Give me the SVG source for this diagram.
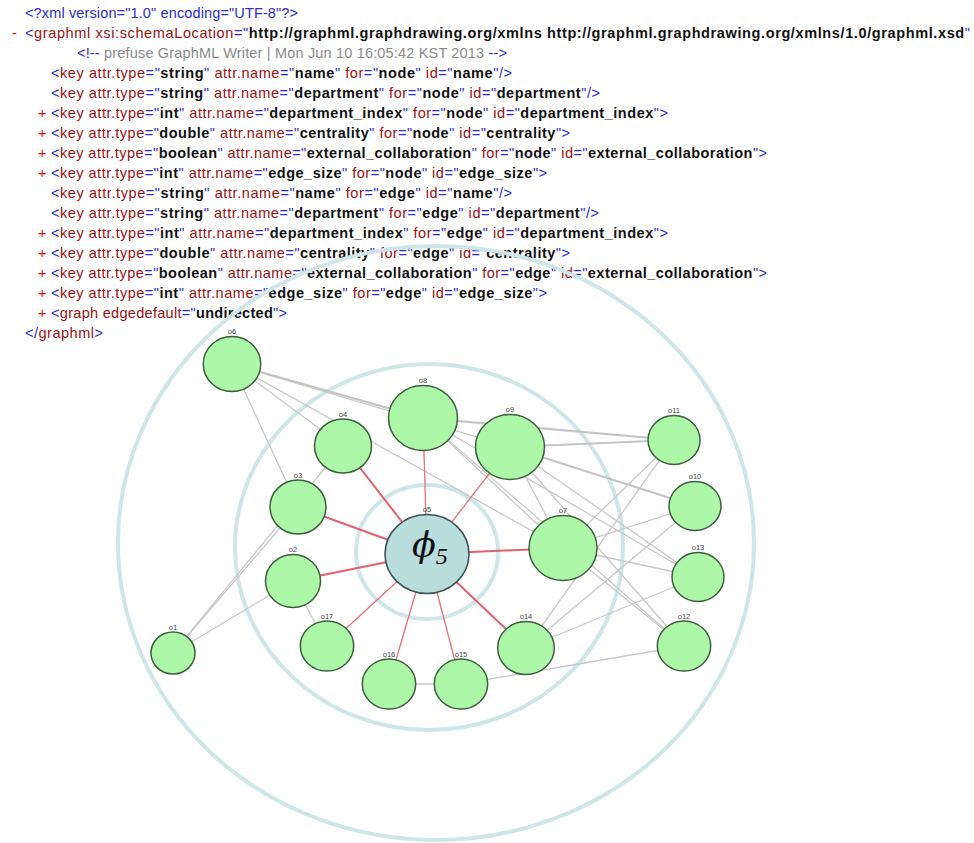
<svg xmlns="http://www.w3.org/2000/svg" width="974" height="843" viewBox="0 0 974 843">
  <style>
    .xml { font-family: "Liberation Sans", Arial, sans-serif; font-size: 14.5px; }
    .m { fill: #2b2bd6; }
    .t { fill: #9a1010; }
    .b { fill: #111; font-weight: bold; }
    .c { fill: #8a8a8a; }
    .p { fill: #e01010; }
    .ring { fill: none; stroke: #cfe6e6; stroke-width: 4; }
    .e { stroke: #c8c8c8; stroke-width: 1.3; fill: none; }
    .ew { stroke: #c4c4c4; stroke-width: 2.2; fill: none; }
    .r { stroke: #e8707c; stroke-width: 1.3; fill: none; }
    .rw { stroke: #e2606e; stroke-width: 2; fill: none; }
    .node ellipse { fill: #adf7a8; stroke: #3e5e3e; stroke-width: 1.5; }
    .hub ellipse { fill: #b9dddd; stroke: #3e5252; stroke-width: 1.6; }
    .lbl { font-family: "Liberation Sans", Arial, sans-serif; font-size: 7.5px; fill: #444; text-anchor: middle; }
  </style>

  <!-- XML listing -->
  <g id="listing" class="xml">
    <text x="25" y="18" class="m" textLength="273" lengthAdjust="spacing">&lt;?xml version="1.0" encoding="UTF-8"?&gt;</text>
    <text x="12" y="38" class="p">-</text>
    <text x="25" y="38" textLength="945" lengthAdjust="spacing"><tspan class="m">&lt;</tspan><tspan class="t">graphml xsi:schemaLocation</tspan><tspan class="m">="</tspan><tspan class="b">http://graphml.graphdrawing.org/xmlns http://graphml.graphdrawing.org/xmlns/1.0/graphml.xsd</tspan><tspan class="m">"</tspan></text>
    <text x="77" y="58" textLength="430" lengthAdjust="spacing"><tspan class="m">&lt;!--</tspan><tspan class="c"> prefuse GraphML Writer | Mon Jun 10 16:05:42 KST 2013 </tspan><tspan class="m">--&gt;</tspan></text>

    <text x="51" y="78" textLength="461" lengthAdjust="spacing"><tspan class="m">&lt;</tspan><tspan class="t">key attr.type</tspan><tspan class="m">="</tspan><tspan class="b">string</tspan><tspan class="m">"</tspan><tspan class="t"> attr.name</tspan><tspan class="m">="</tspan><tspan class="b">name</tspan><tspan class="m">"</tspan><tspan class="t"> for</tspan><tspan class="m">="</tspan><tspan class="b">node</tspan><tspan class="m">"</tspan><tspan class="t"> id</tspan><tspan class="m">="</tspan><tspan class="b">name</tspan><tspan class="m">"/&gt;</tspan></text>
    <text x="51" y="98" textLength="549" lengthAdjust="spacing"><tspan class="m">&lt;</tspan><tspan class="t">key attr.type</tspan><tspan class="m">="</tspan><tspan class="b">string</tspan><tspan class="m">"</tspan><tspan class="t"> attr.name</tspan><tspan class="m">="</tspan><tspan class="b">department</tspan><tspan class="m">"</tspan><tspan class="t"> for</tspan><tspan class="m">="</tspan><tspan class="b">node</tspan><tspan class="m">"</tspan><tspan class="t"> id</tspan><tspan class="m">="</tspan><tspan class="b">department</tspan><tspan class="m">"/&gt;</tspan></text>
    <text x="38" y="118" class="p">+</text>
    <text x="51" y="118" textLength="617" lengthAdjust="spacing"><tspan class="m">&lt;</tspan><tspan class="t">key attr.type</tspan><tspan class="m">="</tspan><tspan class="b">int</tspan><tspan class="m">"</tspan><tspan class="t"> attr.name</tspan><tspan class="m">="</tspan><tspan class="b">department_index</tspan><tspan class="m">"</tspan><tspan class="t"> for</tspan><tspan class="m">="</tspan><tspan class="b">node</tspan><tspan class="m">"</tspan><tspan class="t"> id</tspan><tspan class="m">="</tspan><tspan class="b">department_index</tspan><tspan class="m">"&gt;</tspan></text>
    <text x="38" y="138" class="p">+</text>
    <text x="51" y="138" textLength="519" lengthAdjust="spacing"><tspan class="m">&lt;</tspan><tspan class="t">key attr.type</tspan><tspan class="m">="</tspan><tspan class="b">double</tspan><tspan class="m">"</tspan><tspan class="t"> attr.name</tspan><tspan class="m">="</tspan><tspan class="b">centrality</tspan><tspan class="m">"</tspan><tspan class="t"> for</tspan><tspan class="m">="</tspan><tspan class="b">node</tspan><tspan class="m">"</tspan><tspan class="t"> id</tspan><tspan class="m">="</tspan><tspan class="b">centrality</tspan><tspan class="m">"&gt;</tspan></text>
    <text x="38" y="158" class="p">+</text>
    <text x="51" y="158" textLength="716" lengthAdjust="spacing"><tspan class="m">&lt;</tspan><tspan class="t">key attr.type</tspan><tspan class="m">="</tspan><tspan class="b">boolean</tspan><tspan class="m">"</tspan><tspan class="t"> attr.name</tspan><tspan class="m">="</tspan><tspan class="b">external_collaboration</tspan><tspan class="m">"</tspan><tspan class="t"> for</tspan><tspan class="m">="</tspan><tspan class="b">node</tspan><tspan class="m">"</tspan><tspan class="t"> id</tspan><tspan class="m">="</tspan><tspan class="b">external_collaboration</tspan><tspan class="m">"&gt;</tspan></text>
    <text x="38" y="178" class="p">+</text>
    <text x="51" y="178" textLength="496" lengthAdjust="spacing"><tspan class="m">&lt;</tspan><tspan class="t">key attr.type</tspan><tspan class="m">="</tspan><tspan class="b">int</tspan><tspan class="m">"</tspan><tspan class="t"> attr.name</tspan><tspan class="m">="</tspan><tspan class="b">edge_size</tspan><tspan class="m">"</tspan><tspan class="t"> for</tspan><tspan class="m">="</tspan><tspan class="b">node</tspan><tspan class="m">"</tspan><tspan class="t"> id</tspan><tspan class="m">="</tspan><tspan class="b">edge_size</tspan><tspan class="m">"&gt;</tspan></text>

    <text x="51" y="198" textLength="461" lengthAdjust="spacing"><tspan class="m">&lt;</tspan><tspan class="t">key attr.type</tspan><tspan class="m">="</tspan><tspan class="b">string</tspan><tspan class="m">"</tspan><tspan class="t"> attr.name</tspan><tspan class="m">="</tspan><tspan class="b">name</tspan><tspan class="m">"</tspan><tspan class="t"> for</tspan><tspan class="m">="</tspan><tspan class="b">edge</tspan><tspan class="m">"</tspan><tspan class="t"> id</tspan><tspan class="m">="</tspan><tspan class="b">name</tspan><tspan class="m">"/&gt;</tspan></text>
    <text x="51" y="218" textLength="548" lengthAdjust="spacing"><tspan class="m">&lt;</tspan><tspan class="t">key attr.type</tspan><tspan class="m">="</tspan><tspan class="b">string</tspan><tspan class="m">"</tspan><tspan class="t"> attr.name</tspan><tspan class="m">="</tspan><tspan class="b">department</tspan><tspan class="m">"</tspan><tspan class="t"> for</tspan><tspan class="m">="</tspan><tspan class="b">edge</tspan><tspan class="m">"</tspan><tspan class="t"> id</tspan><tspan class="m">="</tspan><tspan class="b">department</tspan><tspan class="m">"/&gt;</tspan></text>
    <text x="38" y="238" class="p">+</text>
    <text x="51" y="238" textLength="617" lengthAdjust="spacing"><tspan class="m">&lt;</tspan><tspan class="t">key attr.type</tspan><tspan class="m">="</tspan><tspan class="b">int</tspan><tspan class="m">"</tspan><tspan class="t"> attr.name</tspan><tspan class="m">="</tspan><tspan class="b">department_index</tspan><tspan class="m">"</tspan><tspan class="t"> for</tspan><tspan class="m">="</tspan><tspan class="b">edge</tspan><tspan class="m">"</tspan><tspan class="t"> id</tspan><tspan class="m">="</tspan><tspan class="b">department_index</tspan><tspan class="m">"&gt;</tspan></text>
    <text x="38" y="258" class="p">+</text>
    <text x="51" y="258" textLength="519" lengthAdjust="spacing"><tspan class="m">&lt;</tspan><tspan class="t">key attr.type</tspan><tspan class="m">="</tspan><tspan class="b">double</tspan><tspan class="m">"</tspan><tspan class="t"> attr.name</tspan><tspan class="m">="</tspan><tspan class="b">centrality</tspan><tspan class="m">"</tspan><tspan class="t"> for</tspan><tspan class="m">="</tspan><tspan class="b">edge</tspan><tspan class="m">"</tspan><tspan class="t"> id</tspan><tspan class="m">="</tspan><tspan class="b">centrality</tspan><tspan class="m">"&gt;</tspan></text>
    <text x="38" y="278" class="p">+</text>
    <text x="51" y="278" textLength="716" lengthAdjust="spacing"><tspan class="m">&lt;</tspan><tspan class="t">key attr.type</tspan><tspan class="m">="</tspan><tspan class="b">boolean</tspan><tspan class="m">"</tspan><tspan class="t"> attr.name</tspan><tspan class="m">="</tspan><tspan class="b">external_collaboration</tspan><tspan class="m">"</tspan><tspan class="t"> for</tspan><tspan class="m">="</tspan><tspan class="b">edge</tspan><tspan class="m">"</tspan><tspan class="t"> id</tspan><tspan class="m">="</tspan><tspan class="b">external_collaboration</tspan><tspan class="m">"&gt;</tspan></text>
    <text x="38" y="298" class="p">+</text>
    <text x="51" y="298" textLength="496" lengthAdjust="spacing"><tspan class="m">&lt;</tspan><tspan class="t">key attr.type</tspan><tspan class="m">="</tspan><tspan class="b">int</tspan><tspan class="m">"</tspan><tspan class="t"> attr.name</tspan><tspan class="m">="</tspan><tspan class="b">edge_size</tspan><tspan class="m">"</tspan><tspan class="t"> for</tspan><tspan class="m">="</tspan><tspan class="b">edge</tspan><tspan class="m">"</tspan><tspan class="t"> id</tspan><tspan class="m">="</tspan><tspan class="b">edge_size</tspan><tspan class="m">"&gt;</tspan></text>
    <text x="38" y="318" class="p">+</text>
    <text x="51" y="318" textLength="236" lengthAdjust="spacing"><tspan class="m">&lt;</tspan><tspan class="t">graph edgedefault</tspan><tspan class="m">="</tspan><tspan class="b">undirected</tspan><tspan class="m">"&gt;</tspan></text>
    <text x="25" y="338" textLength="78" lengthAdjust="spacing"><tspan class="m">&lt;/</tspan><tspan class="t">graphml</tspan><tspan class="m">&gt;</tspan></text>
  </g>

  <!-- concentric centrality rings -->
  <g id="rings">
    <ellipse class="ring" cx="436" cy="543" rx="318" ry="297"/>
    <ellipse class="ring" cx="429" cy="547" rx="194" ry="183"/>
    <ellipse class="ring" cx="427" cy="552" rx="71" ry="67"/>
  </g>

  <!-- connectors -->
  <g id="edges">
    <line class="e" x1="232" y1="364" x2="298" y2="507"/>
    <line class="e" x1="232" y1="364" x2="343" y2="446"/>
    <line class="ew" x1="232" y1="364" x2="423" y2="418"/>
    <line class="e" x1="232" y1="364" x2="510" y2="447"/>
    <line class="e" x1="232" y1="364" x2="563" y2="548"/>
    <line class="e" x1="173" y1="653" x2="298" y2="507"/>
    <line class="e" x1="173" y1="653" x2="343" y2="446"/>
    <line class="e" x1="173" y1="653" x2="293" y2="581"/>
    <line class="e" x1="293" y1="581" x2="327" y2="646"/>
    <line class="ew" x1="423" y1="418" x2="674" y2="440"/>
    <line class="ew" x1="510" y1="447" x2="674" y2="440"/>
    <line class="ew" x1="510" y1="447" x2="695" y2="506"/>
    <line class="e" x1="423" y1="418" x2="698" y2="577"/>
    <line class="e" x1="510" y1="447" x2="698" y2="577"/>
    <line class="e" x1="510" y1="447" x2="684" y2="646"/>
    <line class="e" x1="423" y1="418" x2="684" y2="646"/>
    <line class="e" x1="510" y1="447" x2="563" y2="548"/>
    <line class="e" x1="423" y1="418" x2="563" y2="548"/>
    <line class="e" x1="563" y1="548" x2="674" y2="440"/>
    <line class="e" x1="563" y1="548" x2="695" y2="506"/>
    <line class="e" x1="563" y1="548" x2="698" y2="577"/>
    <line class="e" x1="563" y1="548" x2="684" y2="646"/>
    <line class="e" x1="526" y1="648" x2="674" y2="440"/>
    <line class="e" x1="526" y1="648" x2="695" y2="506"/>
    <line class="e" x1="526" y1="648" x2="698" y2="577"/>
    <line class="e" x1="461" y1="684" x2="684" y2="646"/>
    <line class="e" x1="389" y1="684" x2="461" y2="684"/>

    <line class="rw" x1="427" y1="554" x2="343" y2="446"/>
    <line class="r" x1="427" y1="554" x2="423" y2="418"/>
    <line class="r" x1="427" y1="554" x2="510" y2="447"/>
    <line class="rw" x1="427" y1="554" x2="298" y2="507"/>
    <line class="rw" x1="427" y1="554" x2="293" y2="581"/>
    <line class="rw" x1="427" y1="554" x2="563" y2="548"/>
    <line class="r" x1="427" y1="554" x2="327" y2="646"/>
    <line class="r" x1="427" y1="554" x2="389" y2="684"/>
    <line class="r" x1="427" y1="554" x2="461" y2="684"/>
    <line class="rw" x1="427" y1="554" x2="526" y2="648"/>
  </g>

  <!-- nodes -->
  <g id="o1" class="node"><ellipse cx="173" cy="653" rx="22" ry="21"/><text class="lbl" x="173" y="630">o1</text></g>
  <g id="o2" class="node"><ellipse cx="293" cy="581" rx="27.5" ry="26.5"/><text class="lbl" x="293" y="552">o2</text></g>
  <g id="o3" class="node"><ellipse cx="298" cy="507" rx="28" ry="27"/><text class="lbl" x="298" y="478">o3</text></g>
  <g id="o4" class="node"><ellipse cx="343" cy="446" rx="28.5" ry="27"/><text class="lbl" x="343" y="417">o4</text></g>
  <g id="o6" class="node"><ellipse cx="232" cy="364" rx="28.7" ry="27.5"/><text class="lbl" x="232" y="334">o6</text></g>
  <g id="o7" class="node"><ellipse cx="563" cy="548" rx="34" ry="32.5"/><text class="lbl" x="563" y="513">o7</text></g>
  <g id="o8" class="node"><ellipse cx="423" cy="418" rx="34.5" ry="32.5"/><text class="lbl" x="423" y="383">o8</text></g>
  <g id="o9" class="node"><ellipse cx="510" cy="447" rx="34.5" ry="32.5"/><text class="lbl" x="510" y="412">o9</text></g>
  <g id="o10" class="node"><ellipse cx="695" cy="506" rx="26" ry="24.5"/><text class="lbl" x="695" y="479">o10</text></g>
  <g id="o11" class="node"><ellipse cx="674" cy="440" rx="26" ry="24.5"/><text class="lbl" x="674" y="413">o11</text></g>
  <g id="o12" class="node"><ellipse cx="684" cy="646" rx="26.7" ry="25"/><text class="lbl" x="684" y="619">o12</text></g>
  <g id="o13" class="node"><ellipse cx="698" cy="577" rx="26" ry="24.5"/><text class="lbl" x="698" y="550">o13</text></g>
  <g id="o14" class="node"><ellipse cx="526" cy="648" rx="28.3" ry="26.5"/><text class="lbl" x="526" y="619">o14</text></g>
  <g id="o15" class="node"><ellipse cx="461" cy="684" rx="26.7" ry="25"/><text class="lbl" x="461" y="657">o15</text></g>
  <g id="o16" class="node"><ellipse cx="389" cy="684" rx="26.7" ry="25"/><text class="lbl" x="389" y="657">o16</text></g>
  <g id="o17" class="node"><ellipse cx="327" cy="646" rx="26.7" ry="25"/><text class="lbl" x="327" y="619">o17</text></g>

  <g id="o5" class="hub">
    <ellipse cx="427" cy="554" rx="42" ry="39.5"/>
    <text class="lbl" x="427" y="512">o5</text>
    <text x="412" y="557" font-family="'DejaVu Serif', 'Liberation Serif', serif" font-style="italic" font-size="35" fill="#111">ϕ<tspan font-size="24" dy="7" font-family="'Liberation Serif', serif">5</tspan></text>
  </g>
</svg>
